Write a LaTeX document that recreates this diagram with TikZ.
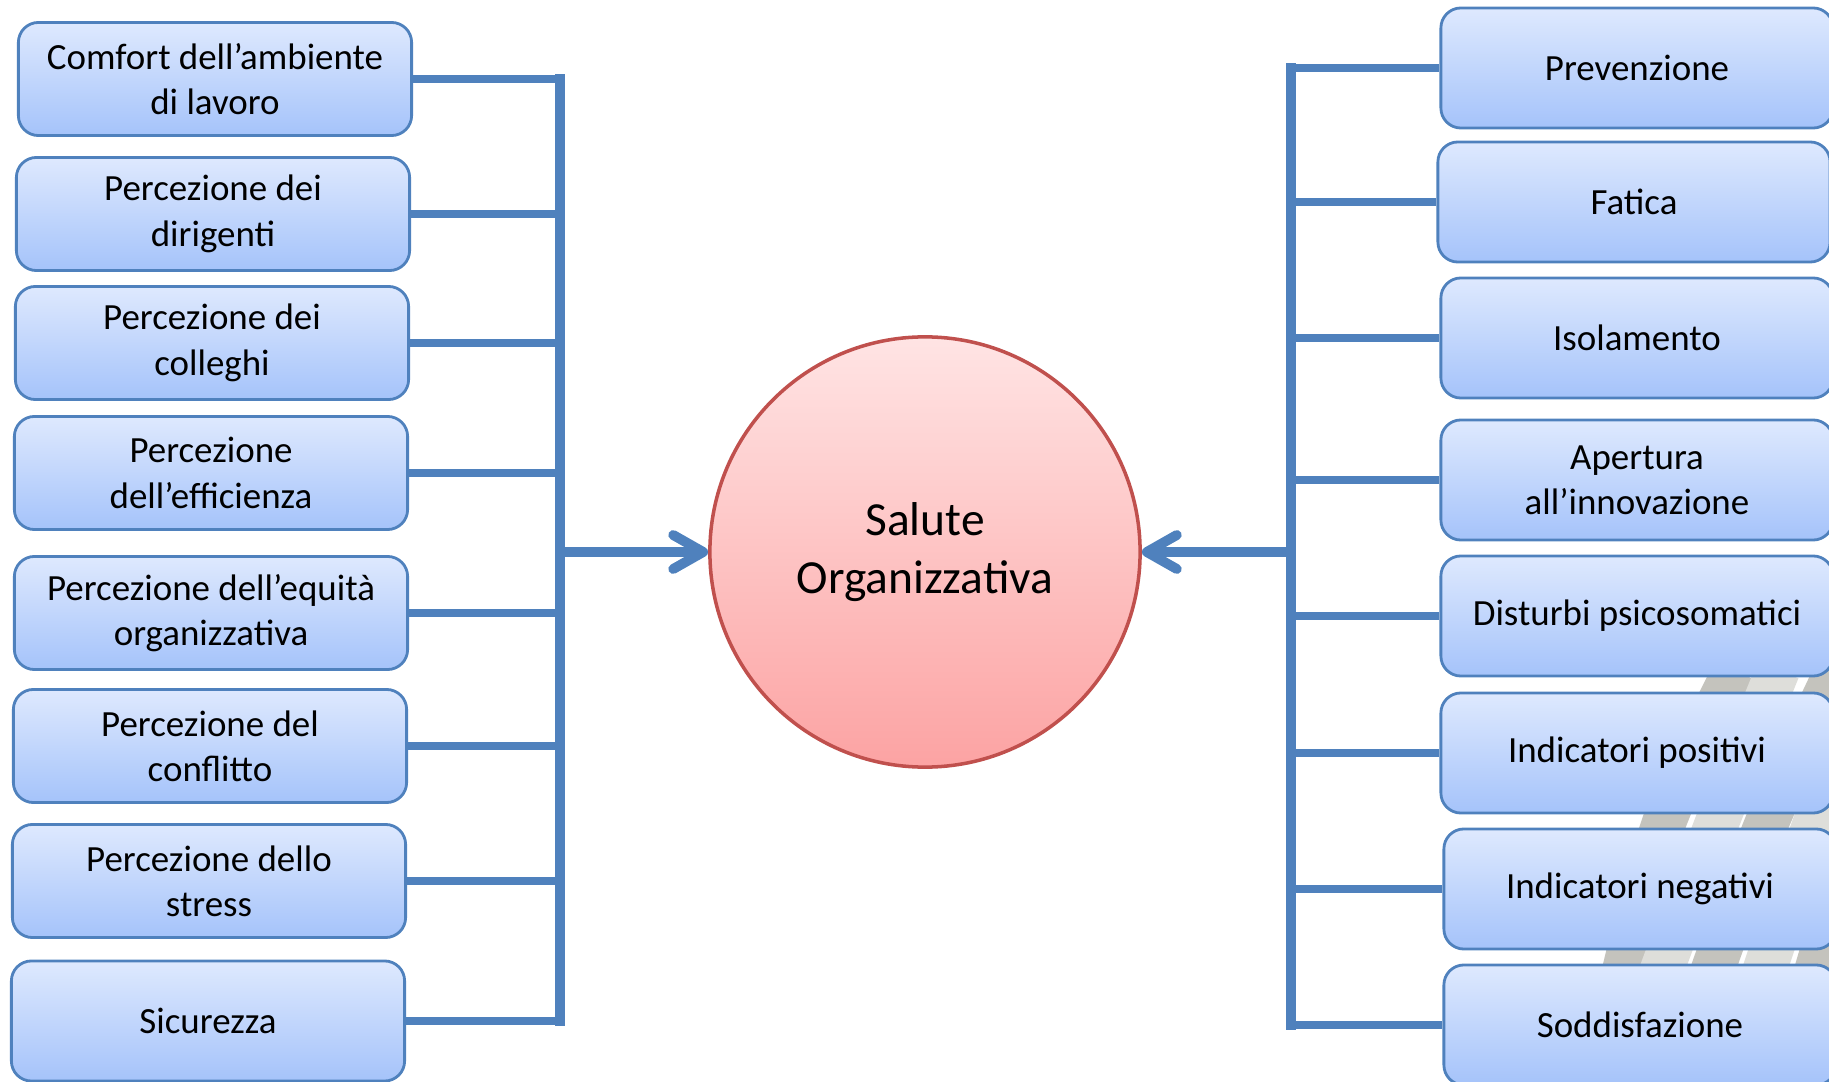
\documentclass[tikz,border=0pt]{standalone}
\usepackage{fontspec}
\setmainfont{Carlito}
\usetikzlibrary{arrows.meta}
\definecolor{linkblue}{HTML}{4F81BD}
\definecolor{boxtop}{HTML}{DEE9FE}
\definecolor{boxbot}{HTML}{A5C3FA}
\definecolor{circtop}{HTML}{FFE4E4}
\definecolor{circbot}{HTML}{FCA3A3}
\definecolor{circline}{HTML}{C0504D}
\definecolor{stripedark}{HTML}{C4C3BD}
\definecolor{stripelight}{HTML}{DEDEDA}
\begin{document}
\begin{tikzpicture}[x=0.01cm, y=-0.01cm,
  item/.style={draw=linkblue, line width=0.8pt, rounded corners=0.2cm, top color=boxtop, bottom color=boxbot,
    minimum width=3.93cm, minimum height=1.13cm, align=center, font=\fontsize{10.5}{12.9}\selectfont},
  ritem/.style={item, minimum width=3.92cm, minimum height=1.2cm},
  link/.style={linkblue, line width=2.1pt},
  bus/.style={linkblue, line width=2.8pt, line cap=rect},
  feed/.style={bus, line cap=butt, -{Straight Barb[length=0.3cm, width=0.34cm, round]}}]
\useasboundingbox (0,0) rectangle (1829,1082);
% gray stripes behind the right column
\begin{scope}[line width=0.44cm]
\draw[stripedark] plot[smooth] coordinates {(1735,670) (1665,820) (1623,975)};
\draw[stripelight] plot[smooth] coordinates {(1778,670) (1718,820) (1660,975)};
\draw[stripedark] plot[smooth] coordinates {(1837,670) (1768,820) (1711,975)};
\draw[stripelight] plot[smooth] coordinates {(1876,670) (1816,820) (1763,975)};
\draw[stripedark] plot[smooth] coordinates {(1916,670) (1862,820) (1815,975)};
\end{scope}
% left column
\node[item] (L1) at (215,79) {Comfort dell’ambiente\\di lavoro};
\node[item] (L2) at (213,214) {Percezione dei\\dirigenti};
\node[item] (L3) at (212,343) {Percezione dei\\colleghi};
\node[item] (L4) at (211,473) {Percezione\\dell’efficienza};
\node[item] (L5) at (211,613) {Percezione dell’equità\\organizzativa};
\node[item] (L6) at (210,746) {Percezione del\\conflitto};
\node[item] (L7) at (209,881) {Percezione dello\\stress};
\node[item, minimum height=1.2cm] (L8) at (208,1021) {Sicurezza};
% right column
\node[ritem] (R1) at (1637,68) {Prevenzione};
\node[ritem] (R2) at (1634,202) {Fatica};
\node[ritem] (R3) at (1637,338) {Isolamento};
\node[ritem] (R4) at (1637,480) {Apertura\\all’innovazione};
\node[ritem] (R5) at (1637,616) {Disturbi psicosomatici};
\node[ritem] (R6) at (1637,753) {Indicatori positivi};
\node[ritem] (R7) at (1640,889) {Indicatori negativi};
\node[ritem] (R8) at (1640,1025) {Soddisfazione};
% centre
\node[circle, draw=circline, line width=1pt, top color=circtop, bottom color=circbot,
  minimum size=4.3cm, align=center, font=\fontsize{13.5}{16.5}\selectfont] (S) at (925,552) {Salute\\Organizzativa};
\coordinate (lb) at (560,552);
\coordinate (rb) at (1291,552);
\draw[link] (L1.east) -| (lb);
\draw[link] (L2.east) -| (lb);
\draw[link] (L3.east) -| (lb);
\draw[link] (L4.east) -| (lb);
\draw[link] (L5.east) -| (lb);
\draw[link] (L6.east) -| (lb);
\draw[link] (L7.east) -| (lb);
\draw[link] (L8.east) -| (lb);
\draw[link] (R1.west) -| (rb);
\draw[link] (R2.west) -| (rb);
\draw[link] (R3.west) -| (rb);
\draw[link] (R4.west) -| (rb);
\draw[link] (R5.west) -| (rb);
\draw[link] (R6.west) -| (rb);
\draw[link] (R7.west) -| (rb);
\draw[link] (R8.west) -| (rb);
\draw[bus] (L1.east -| lb) -- (L8.east -| lb);
\draw[bus] (R1.west -| rb) -- (R8.west -| rb);
\draw[feed] (lb) -- (S.west);
\draw[feed] (rb) -- (S.east);
\end{tikzpicture}
\end{document}
